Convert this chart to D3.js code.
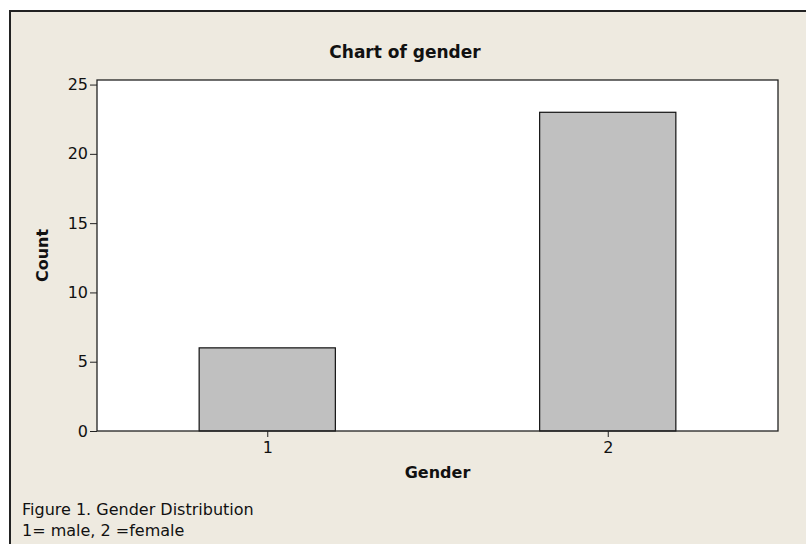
<!DOCTYPE html>
<html>
<head>
<meta charset="utf-8">
<script src="https://cdn.jsdelivr.net/npm/d3@7"></script>
<style>
  body { margin: 0; background: #fff; }
  svg { display: block; }
  text { font-family: Tahoma, "DejaVu Sans", sans-serif; fill: #111; }
</style>
</head>
<body>
<svg id="chart" width="806" height="544"></svg>
<script>
const categories = ["1", "2"];
const counts = [6, 23];
const yTicks = [0, 5, 10, 15, 20, 25];

const svg = d3.select("#chart");
const W = 806, H = 544;
const plot = { left: 97, right: 778, top: 80, bottom: 431 };
const FONT = "Tahoma, 'DejaVu Sans', sans-serif";

// outer frame (runs off the right and bottom edges)
svg.append("rect")
  .attr("x", 10).attr("y", 11)
  .attr("width", W).attr("height", H)
  .attr("fill", "#eeeae0")
  .attr("stroke", "#222")
  .attr("stroke-width", 2);

svg.append("rect")
  .attr("x", plot.left).attr("y", plot.top)
  .attr("width", plot.right - plot.left)
  .attr("height", plot.bottom - plot.top)
  .attr("fill", "#fff");

const x = d3.scalePoint()
  .domain(categories)
  .range([plot.left, plot.right])
  .padding(0.5);
const barW = x.step() * 0.4;

const y = d3.scaleLinear()
  .domain([0, 25.33])
  .range([plot.bottom, plot.top]);

svg.append("g")
  .selectAll("rect")
  .data(categories)
  .enter()
  .append("rect")
  .attr("x", d => x(d) - barW / 2)
  .attr("y", (d, i) => y(counts[i]))
  .attr("width", barW)
  .attr("height", (d, i) => y(0) - y(counts[i]))
  .attr("fill", "#c0c0c0")
  .attr("stroke", "#111")
  .attr("stroke-width", 1.2);

// plot frame
svg.append("rect")
  .attr("x", plot.left).attr("y", plot.top)
  .attr("width", plot.right - plot.left)
  .attr("height", plot.bottom - plot.top)
  .attr("fill", "none")
  .attr("stroke", "#222")
  .attr("stroke-width", 1.3);

const yAxis = svg.append("g")
  .attr("transform", `translate(${plot.left},0)`)
  .call(d3.axisLeft(y).tickValues(yTicks).tickSize(7).tickPadding(2));
yAxis.select(".domain").remove();

const xAxis = svg.append("g")
  .attr("transform", `translate(0,${plot.bottom})`)
  .call(d3.axisBottom(x).tickSize(6).tickPadding(5));
xAxis.select(".domain").remove();

// axis() puts its own font on the group, so restyle afterwards
svg.selectAll(".tick line").attr("stroke", "#222");
svg.selectAll(".tick text")
  .attr("fill", "#111")
  .attr("font-size", 16)
  .attr("font-family", FONT);
yAxis.attr("font-size", 16).attr("font-family", FONT);
xAxis.attr("font-size", 16).attr("font-family", FONT);

svg.append("text")
  .attr("x", 405).attr("y", 58)
  .attr("text-anchor", "middle")
  .attr("font-size", 17)
  .attr("font-weight", "bold")
  .text("Chart of gender");

svg.append("text")
  .attr("transform", `translate(48,${(plot.top + plot.bottom) / 2}) rotate(-90)`)
  .attr("text-anchor", "middle")
  .attr("font-size", 16)
  .attr("font-weight", "bold")
  .text("Count");

svg.append("text")
  .attr("x", (plot.left + plot.right) / 2).attr("y", 478)
  .attr("text-anchor", "middle")
  .attr("font-size", 16)
  .attr("font-weight", "bold")
  .text("Gender");

svg.append("text")
  .attr("x", 22).attr("y", 515)
  .attr("font-size", 16)
  .text("Figure 1. Gender Distribution");

svg.append("text")
  .attr("x", 22).attr("y", 536)
  .attr("font-size", 16)
  .text("1= male, 2 =female");
</script>
</body>
</html>
